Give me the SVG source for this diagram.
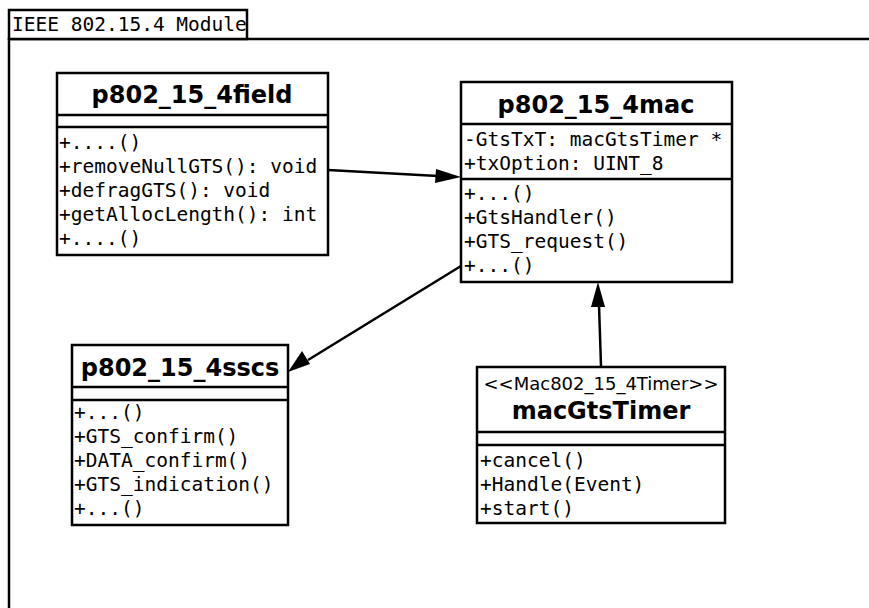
<svg xmlns="http://www.w3.org/2000/svg" width="869" height="608" viewBox="0 0 869 608">
<defs>
<style>
.box{fill:#fff;stroke:#000;stroke-width:2.5}
.ln{stroke:#000;stroke-width:2.5;fill:none}
.m{font-family:"DejaVu Sans Mono",monospace;font-size:19.5px;fill:#000}
.t{font-family:"DejaVu Sans",sans-serif;font-weight:bold;font-size:24px;fill:#000;text-anchor:middle}
.s{font-family:"DejaVu Sans",sans-serif;font-size:18px;fill:#000;text-anchor:middle}
</style>
</defs>
<rect width="869" height="608" fill="#fff"/>
<g id="frame">
<path class="ln" d="M9,608 V39 H869"/>
<rect class="box" x="9" y="10" width="238" height="29"/>
<text class="m" x="12" y="31">IEEE 802.15.4 Module</text>
</g>
<g id="connectors">
<path class="ln" d="M328,170 L438,176"/>
<path d="M461,177 L435,183 L436,169 z" fill="#000"/>
<path class="ln" d="M461,266 L308,360"/>
<path d="M288,372 L302,351 L310,364 z" fill="#000"/>
<path class="ln" d="M601,366 L599,305"/>
<path d="M598,282 L605,307 L591,307 z" fill="#000"/>
</g>
<g id="field">
<rect class="box" x="57" y="73" width="271" height="182"/>
<path class="ln" d="M57,115 H328 M57,127 H328"/>
<text class="t" x="192" y="103">p802_15_4field</text>
<text class="m" x="59" y="149">+....()</text>
<text class="m" x="59" y="173">+removeNullGTS(): void</text>
<text class="m" x="59" y="197">+defragGTS(): void</text>
<text class="m" x="59" y="221">+getAllocLength(): int</text>
<text class="m" x="59" y="245">+....()</text>
</g>
<g id="mac">
<rect class="box" x="461" y="82" width="271" height="200"/>
<path class="ln" d="M461,124 H732 M461,179 H732"/>
<text class="t" x="596" y="113">p802_15_4mac</text>
<text class="m" x="464" y="146">-GtsTxT: macGtsTimer *</text>
<text class="m" x="464" y="170">+txOption: UINT_8</text>
<text class="m" x="464" y="200">+...()</text>
<text class="m" x="464" y="224">+GtsHandler()</text>
<text class="m" x="464" y="248">+GTS_request()</text>
<text class="m" x="464" y="272">+...()</text>
</g>
<g id="sscs">
<rect class="box" x="72" y="345" width="216" height="180"/>
<path class="ln" d="M72,387 H288 M72,400 H288"/>
<text class="t" x="180" y="376">p802_15_4sscs</text>
<text class="m" x="74" y="419">+...()</text>
<text class="m" x="74" y="443">+GTS_confirm()</text>
<text class="m" x="74" y="467">+DATA_confirm()</text>
<text class="m" x="74" y="491">+GTS_indication()</text>
<text class="m" x="74" y="515">+...()</text>
</g>
<g id="timer">
<rect class="box" x="477" y="367" width="248" height="156"/>
<path class="ln" d="M477,432 H725 M477,445 H725"/>
<text class="s" x="601" y="390">&lt;&lt;Mac802_15_4Timer&gt;&gt;</text>
<text class="t" x="601" y="419">macGtsTimer</text>
<text class="m" x="480" y="467">+cancel()</text>
<text class="m" x="480" y="491">+Handle(Event)</text>
<text class="m" x="480" y="515">+start()</text>
</g>
</svg>
